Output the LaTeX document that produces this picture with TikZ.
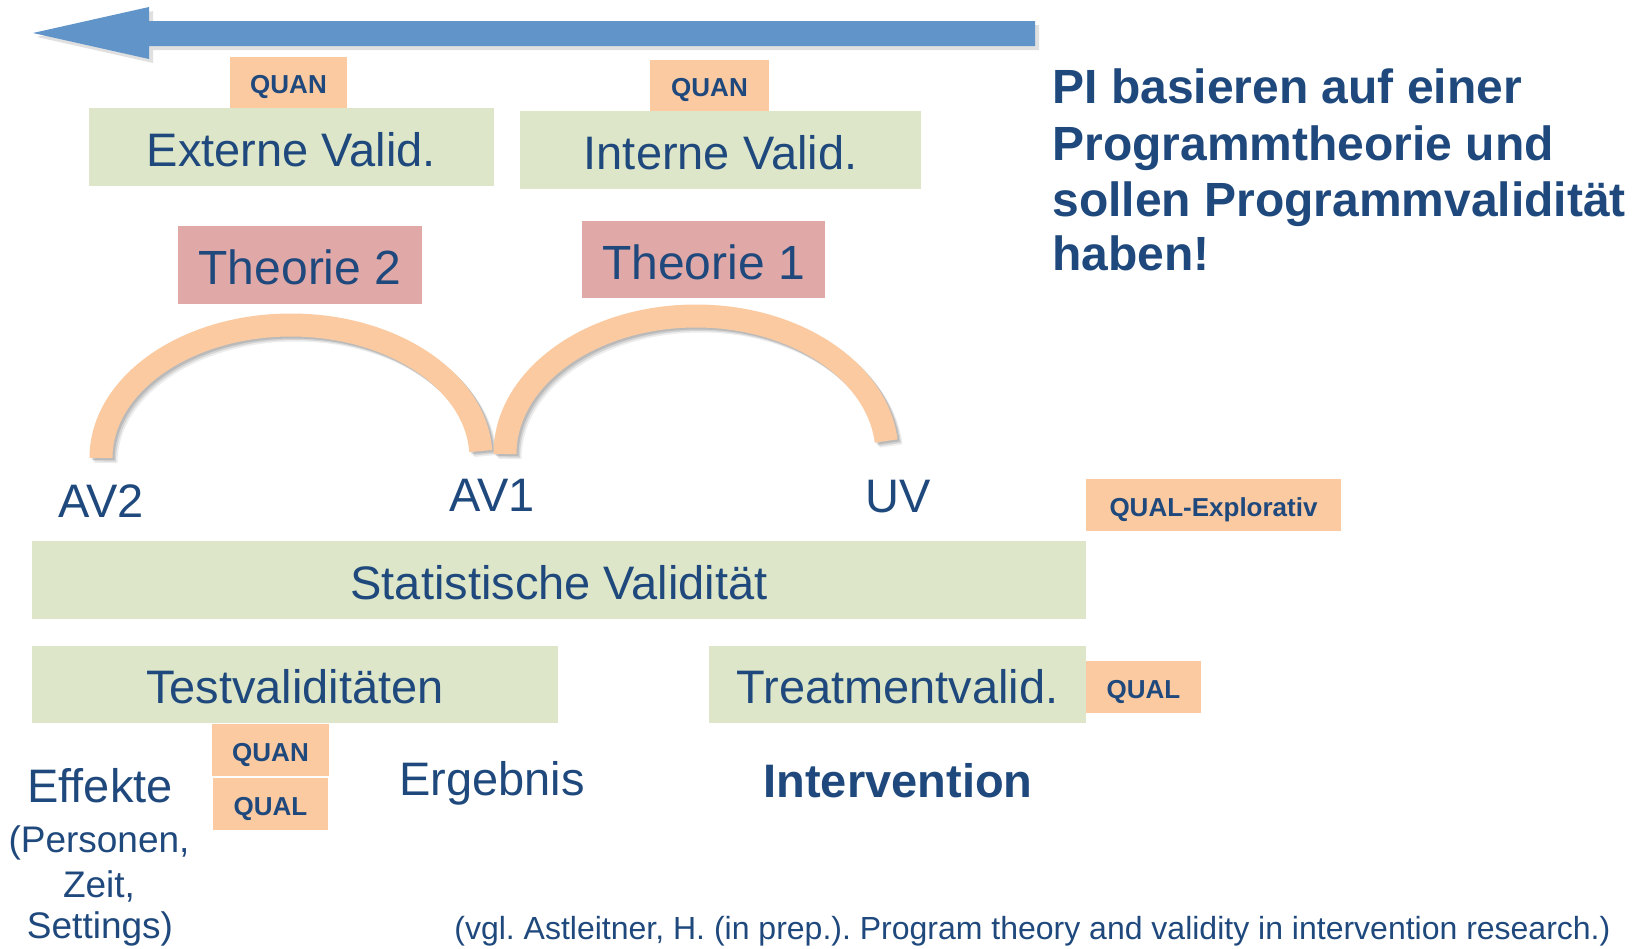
\documentclass[tikz,border=0pt]{standalone}
\usepackage{fontspec}
\setmainfont{Liberation Sans}
\usetikzlibrary{calc}
\frenchspacing
\definecolor{tblue}{HTML}{1F497D}
\definecolor{vgreen}{HTML}{DDE6C8}
\definecolor{vorange}{HTML}{FBCAA0}
\definecolor{vpink}{HTML}{E0A8A7}
\definecolor{arrowblue}{HTML}{6194C8}
\pgfdeclareradialshading{bgshade}{\pgfpoint{0bp}{0bp}}{color(0bp)=(white); color(37bp)=(white); color(50bp)=(black!11)}
\begin{document}
\frenchspacing
\begin{tikzpicture}[x=0.5pt,y=-0.5pt,
  every node/.style={inner sep=0pt, text=tblue},
  bigtxt/.style={font=\fontsize{23.5}{28}\selectfont},
  gbox/.style={fill=vgreen, bigtxt, text height=19.3pt, text depth=0pt},
  tbox/.style={fill=vpink, font=\fontsize{24}{28}\selectfont, text height=19.7pt, text depth=0pt},
  tag/.style={fill=vorange, font=\bfseries\fontsize{13}{15}\selectfont, text height=11.2pt, text depth=0pt},
  headtxt/.style={font=\bfseries\fontsize{24}{28}\selectfont, anchor=base west},
  smalltxt/.style={font=\fontsize{18.5}{22}\selectfont, anchor=base},
  theoryarc/.style={draw=vorange, line width=11.5pt},
  arcshadow/.style={draw=black, line width=11.5pt, opacity=#1},
]
\useasboundingbox (0,0) rectangle (1636,948);
% background
\begin{scope}
\clip (0,0) rectangle (1636,948);
\fill[white] (0,0) rectangle (1636,948);
\shade[shading=bgshade] (500,100) circle[radius=1420];
\end{scope}

% top arrow
\fill[black, opacity=0.12] (37,37) -- (153,11) -- (153,25) -- (1039,25) -- (1039,50) -- (153,50) -- (153,63) -- cycle;
\fill[arrowblue] (33,33) -- (149,7) -- (149,21) -- (1035,21) -- (1035,46) -- (149,46) -- (149,59) -- cycle;

% top boxes
\node[tag, minimum width=58.5pt, minimum height=25.5pt] (quan1) at (288.5,82.5) {QUAN};
\node[gbox, minimum width=202.5pt, minimum height=39pt] (ext) at (291.5,147) {Externe Valid.};
\node[tag, minimum width=59.5pt, minimum height=25.5pt] (quan2) at (709.5,85.5) {QUAN};
\node[gbox, minimum width=200.5pt, minimum height=39pt] (int) at (720.5,150) {Interne Valid.};

% theories
\node[tbox, minimum width=122pt, minimum height=39pt] (th2) at (300,265) {Theorie 2};
\node[tbox, minimum width=121.5pt, minimum height=38.5pt] (th1) at (703.5,259.5) {Theorie 1};

% arcs
\coordinate (f2) at (101,458);
\coordinate (f1) at (505,454);
\foreach \dx/\op in {5/0.07,3.5/0.1,2/0.12}{
  \draw[arcshadow=\op] ($(f2)+(\dx,\dx)$) arc[start angle=180, end angle=357, x radius=190, y radius=133];
  \draw[arcshadow=\op] ($(f1)+(\dx,\dx)$) arc[start angle=180, end angle=354.6, x radius=191, y radius=138];
}
\draw[theoryarc] (f2) arc[start angle=180, end angle=357, x radius=190, y radius=133];
\draw[theoryarc] (f1) arc[start angle=180, end angle=354.6, x radius=191, y radius=138];

% variables
\node[bigtxt, anchor=base] (av2) at (101,517) {AV2};
\node[bigtxt, anchor=base] (av1) at (492,511) {AV1};
\node[bigtxt, anchor=base] (uv) at (898,512) {UV};

% validity boxes
\node[tag, minimum width=127.5pt, minimum height=26pt] (qexp) at (1213.5,505) {QUAL-Explorativ};
\node[gbox, minimum width=527pt, minimum height=39pt] (stat) at (559,580) {Statistische Validität};
\node[gbox, minimum width=263pt, minimum height=38.5pt] (test) at (295,684.5) {Testvaliditäten};
\node[gbox, minimum width=188.5pt, minimum height=38.5pt] (treat) at (897.5,684.5) {Treatmentvalid.};
\node[tag, minimum width=57.5pt, minimum height=26pt] (qualr) at (1143.5,687) {QUAL};
\node[tag, minimum width=58.5pt, minimum height=26pt] (quanl) at (270.5,750) {QUAN};
\node[tag, minimum width=57.5pt, minimum height=26pt] (quall) at (270.5,804) {QUAL};

% bottom labels
\node[bigtxt, anchor=base] (eff) at (100,802) {Effekte};
\node[smalltxt] (p1) at (99,852) {(Personen,};
\node[smalltxt] (p2) at (99,897) {Zeit,};
\node[smalltxt] (p3) at (100,938) {Settings)};
\node[bigtxt, anchor=base] (erg) at (492,795) {Ergebnis};
\node[bigtxt, anchor=base, font=\bfseries\fontsize{23.5}{28}\selectfont] (interv) at (898,797) {Intervention};

% heading
\node[headtxt] (h1) at (1052,103) {PI basieren auf einer};
\node[headtxt] (h2) at (1052,160) {Programmtheorie und};
\node[headtxt] (h3) at (1052,216) {sollen Programmvalidität};
\node[headtxt] (h4) at (1052,270) {haben!};

% citation
\node[anchor=base west, font=\fontsize{16}{19}\selectfont] (cite) at (454,939) {(vgl. Astleitner, H. (in prep.). Program theory and validity in intervention research.)};
\end{tikzpicture}
\end{document}
